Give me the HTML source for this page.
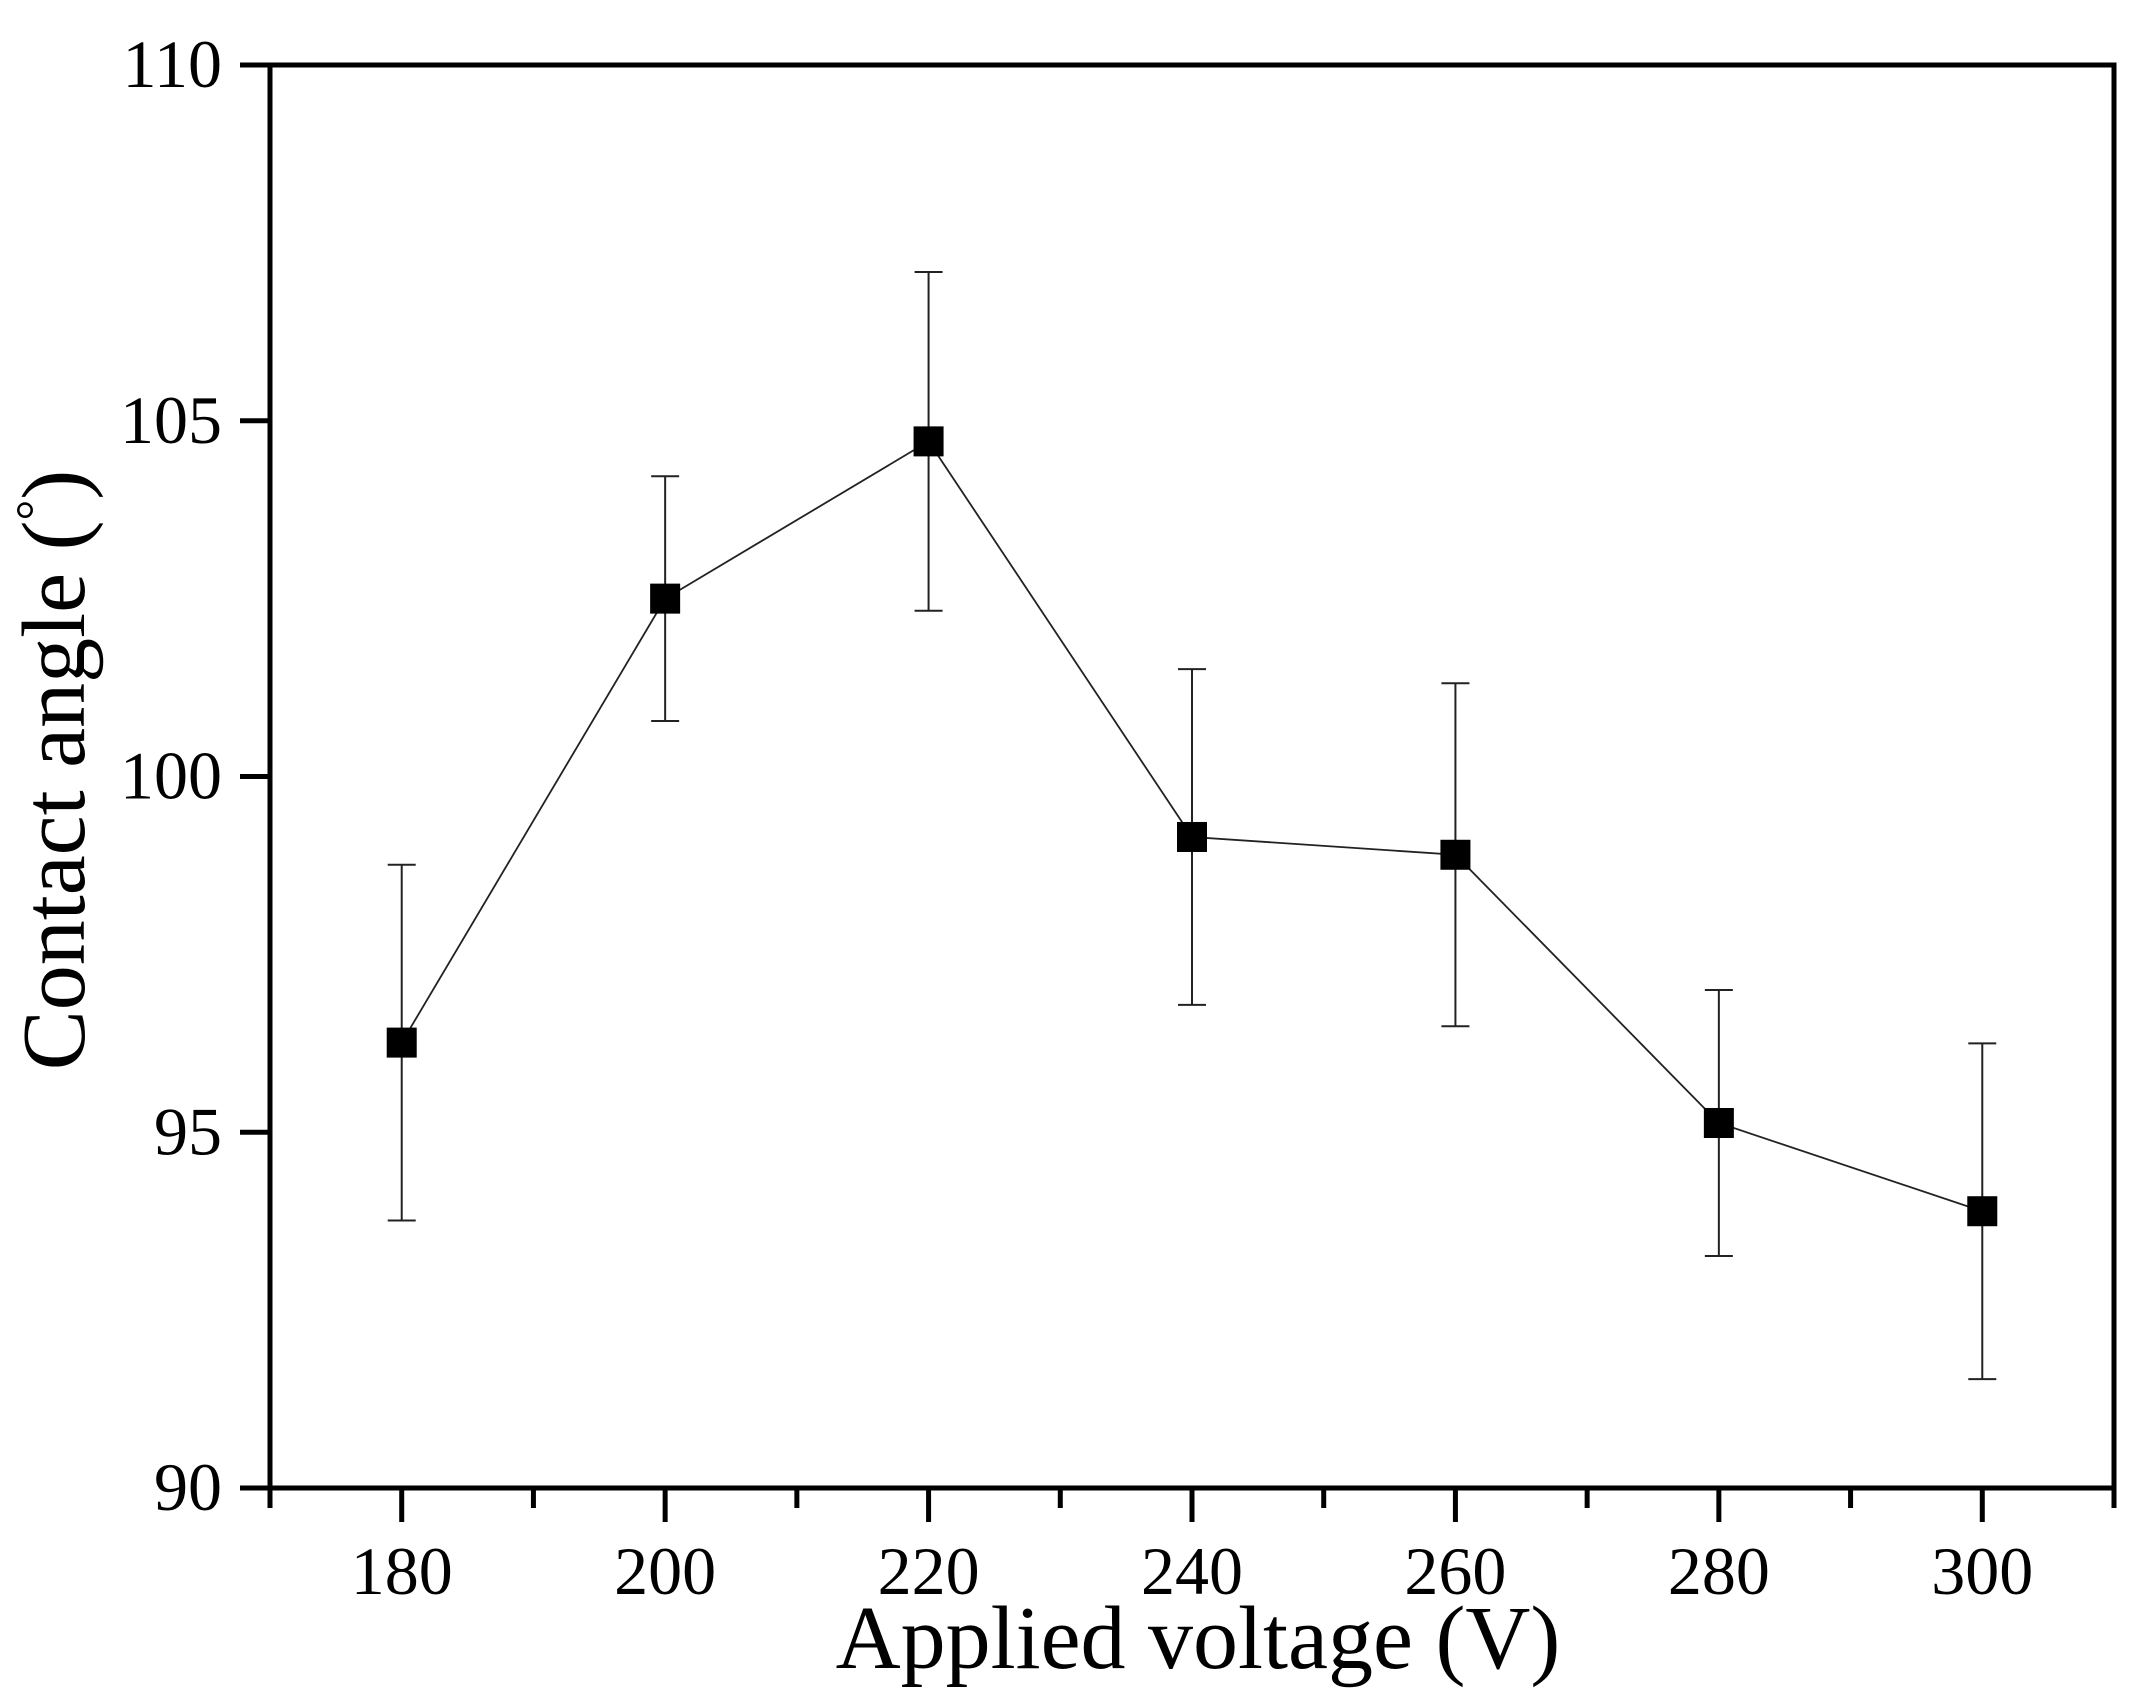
<!DOCTYPE html>
<html><head><meta charset="utf-8"><style>
html,body{margin:0;padding:0;background:#fff;}
svg{display:block;font-family:"Liberation Serif",serif;}
</style></head><body>
<svg id="chart" width="2152" height="1698" viewBox="0 0 2152 1698">
<g id="axes"></g>
<g id="series"></g>
<text x="1198" y="1668" font-size="90" text-anchor="middle">Applied voltage (V)</text>
<text transform="translate(84,770) rotate(-90)" font-size="90" text-anchor="middle">Contact angle (<tspan font-size="52" dy="-32">°</tspan><tspan dy="32">)</tspan></text>
</svg>
<script>
const voltages = [180, 200, 220, 240, 260, 280, 300];
const angles = [96.26, 102.5, 104.71, 99.15, 98.9, 95.13, 93.89];
const errors = [2.5, 1.72, 2.38, 2.36, 2.41, 1.87, 2.36];
const xTicks = [180, 200, 220, 240, 260, 280, 300];
const yTicks = [90, 95, 100, 105, 110];

const NS = "http://www.w3.org/2000/svg";
const L = 270, R = 2114, T = 65, B = 1488;
const xMin = 170, xMax = 310, yMin = 90, yMax = 110;
const xs = v => L + (v - xMin) / (xMax - xMin) * (R - L);
const ys = v => B - (v - yMin) / (yMax - yMin) * (B - T);
function mk(tag, attrs, parent) {
  const e = document.createElementNS(NS, tag);
  for (const k in attrs) e.setAttribute(k, attrs[k]);
  parent.appendChild(e);
  return e;
}
const axes = document.getElementById('axes');
const series = document.getElementById('series');
const frame = mk('rect', {x: L, y: T, width: R - L, height: B - T, fill: 'none', stroke: '#000', 'stroke-width': 5}, axes);


for (let v = xMin; v <= xMax; v += 10) {
  const major = xTicks.includes(v);
  const t = mk('line', {x1: xs(v), x2: xs(v), y1: B, y2: B + (major ? 34 : 20), stroke: '#000', 'stroke-width': 5}, axes);
  
  
}
xTicks.forEach(v => {
  const t = mk('text', {x: xs(v), y: 1594, 'font-size': 68, 'text-anchor': 'middle'}, axes);
  t.textContent = v;
  
  
});
for (let v = yMin; v <= yMax; v += 5) {
  const t = mk('line', {x1: L, x2: L - 30, y1: ys(v), y2: ys(v), stroke: '#000', 'stroke-width': 5}, axes);
  
  
}
yTicks.forEach(v => {
  const t = mk('text', {x: 222, y: ys(v) + 22, 'font-size': 68, 'text-anchor': 'end'}, axes);
  t.textContent = v;
  
  
});
const pts = voltages.map((v, i) => xs(v) + ',' + ys(angles[i])).join(' ');
const line = mk('polyline', {points: pts, fill: 'none', stroke: '#222', 'stroke-width': 1.8}, series);


voltages.forEach((v, i) => {
  const x = xs(v), yT = ys(angles[i] + errors[i]), yB = ys(angles[i] - errors[i]);
  const g = mk('g', {stroke: '#222', 'stroke-width': 2}, series);
  
  
  mk('line', {x1: x, x2: x, y1: yT, y2: yB}, g);
  mk('line', {x1: x - 14, x2: x + 14, y1: yT, y2: yT}, g);
  mk('line', {x1: x - 14, x2: x + 14, y1: yB, y2: yB}, g);
  const m = mk('rect', {x: x - 15, y: ys(angles[i]) - 15, width: 30, height: 30, fill: '#000'}, series);
  
  
});
</script>
</body></html>
